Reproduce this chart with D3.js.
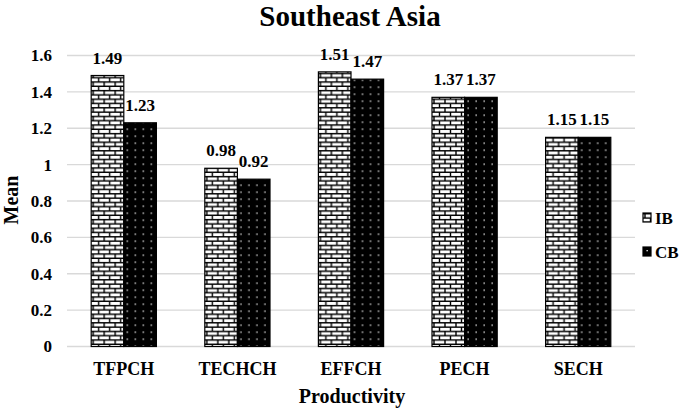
<!DOCTYPE html>
<html>
<head>
<meta charset="utf-8">
<script src="https://d3js.org/d3.v7.min.js"></script>
<style>
  body { margin: 0; background: #fff; }
  svg text { font-family: 'Liberation Serif', 'Times New Roman', 'DejaVu Serif', serif !important; font-weight: bold; fill: #000; }
</style>
</head>
<body>
<div id="chart"></div>
<script>
// chart data
const categories = ["TFPCH", "TECHCH", "EFFCH", "PECH", "SECH"];
const seriesNames = ["IB", "CB"];
const ibValues = [1.49, 0.98, 1.51, 1.37, 1.15];
const cbValues = [1.23, 0.92, 1.47, 1.37, 1.15];
const yTicks = [0, 0.2, 0.4, 0.6, 0.8, 1, 1.2, 1.4, 1.6];

const W = 685, H = 411;
const margin = { top: 55.5, right: 50, bottom: 64.5, left: 67 };
const width = W - margin.left - margin.right;
const height = H - margin.top - margin.bottom;
const serif = "'Liberation Serif', 'Times New Roman', serif";

const svg = d3.select("#chart").append("svg")
    .attr("width", W)
    .attr("height", H)
    .attr("font-family", serif);

// fill patterns
const defs = svg.append("defs");
const brick = defs.append("pattern")
    .attr("id", "brick")
    .attr("patternUnits", "userSpaceOnUse")
    .attr("width", 11).attr("height", 8.6);
brick.append("rect").attr("width", 11).attr("height", 8.6).attr("fill", "#fff");
brick.append("path")
    .attr("d", "M0,0.7H11M0,5H11M2,0V5M7.5,5V8.6")
    .attr("stroke", "#000").attr("stroke-width", 1.4);

const dots = defs.append("pattern")
    .attr("id", "dots")
    .attr("patternUnits", "userSpaceOnUse")
    .attr("width", 8).attr("height", 7);
dots.append("rect").attr("width", 8).attr("height", 7).attr("fill", "#000");
dots.append("rect").attr("x", 3.5).attr("y", 3).attr("width", 1.3).attr("height", 1.3).attr("fill", "#fff");

const fills = { IB: "url(#brick)", CB: "url(#dots)" };

const g = svg.append("g")
    .attr("transform", `translate(${margin.left},${margin.top})`);

const x = d3.scaleBand()
    .domain(categories)
    .range([0, width])
    .paddingInner(0.426)
    .paddingOuter(0.213);

const x1 = d3.scaleBand()
    .domain(seriesNames)
    .range([0, x.bandwidth()]);

const y = d3.scaleLinear()
    .domain([0, 1.6])
    .range([height, 0]);

// gridlines
g.append("g")
    .selectAll("line")
    .data(yTicks)
    .enter()
    .append("line")
    .attr("x1", 0)
    .attr("x2", width)
    .attr("y1", d => y(d))
    .attr("y2", d => y(d))
    .attr("stroke", "#d9d9d9")
    .attr("stroke-width", 1.3);

// y axis
const yAxis = g.append("g")
    .call(d3.axisLeft(y).tickValues(yTicks).tickFormat(d3.format("")).tickSize(0).tickPadding(15));
yAxis.attr("font-family", null);
yAxis.select(".domain").remove();
yAxis.selectAll("text")
    .style("font-size", "17px");

// x axis
const xAxis = g.append("g")
    .attr("transform", `translate(0,${height})`)
    .call(d3.axisBottom(x).tickSize(0).tickPadding(15.5));
xAxis.attr("font-family", null);
xAxis.select(".domain").remove();
xAxis.selectAll("text")
    .style("font-size", "18px");

const rows = categories.map((c, i) => ({ cat: c, IB: ibValues[i], CB: cbValues[i] }));

const groups = g.selectAll(".grp")
    .data(rows)
    .enter()
    .append("g")
    .attr("class", "grp")
    .attr("transform", d => `translate(${x(d.cat)},0)`);

groups.selectAll("rect")
    .data(d => seriesNames.map(s => ({ s, v: d[s] })))
    .enter()
    .append("rect")
    .attr("x", d => x1(d.s))
    .attr("y", d => y(d.v))
    .attr("width", x1.bandwidth())
    .attr("height", d => height - y(d.v))
    .attr("fill", d => fills[d.s])
    .attr("stroke", "#000")
    .attr("stroke-width", 1.2);

groups.selectAll(".label")
    .data(d => seriesNames.map(s => ({ s, v: d[s] })))
    .enter()
    .append("text")
    .attr("class", "label")
    .attr("x", d => x1(d.s) + x1.bandwidth() / 2)
    .attr("y", d => y(d.v) - 12)
    .attr("text-anchor", "middle")
    .style("font-size", "17px")
    .text(d => d.v.toFixed(2));

// title
svg.append("text")
    .attr("x", 350)
    .attr("y", 26)
    .attr("text-anchor", "middle")
    .style("font-size", "29px")
    .text("Southeast Asia");

// axis titles
svg.append("text")
    .attr("x", 352)
    .attr("y", 403)
    .attr("text-anchor", "middle")
    .style("font-size", "20px")
    .text("Productivity");

svg.append("text")
    .attr("transform", "translate(18,200) rotate(-90)")
    .attr("text-anchor", "middle")
    .style("font-size", "20px")
    .text("Mean");

// legend
const legend = svg.append("g")
    .attr("transform", "translate(643,213)");
seriesNames.forEach((s, i) => {
    const lg = legend.append("g").attr("transform", `translate(0,${i * 34})`);
    lg.append("rect")
        .attr("width", 8).attr("height", 9)
        .attr("fill", fills[s])
        .attr("stroke", "#000").attr("stroke-width", 1.2);
    lg.append("text")
        .attr("x", 12).attr("y", 10.5)
        .style("font-size", "17px")
        .text(s);
});
</script>
</body>
</html>
